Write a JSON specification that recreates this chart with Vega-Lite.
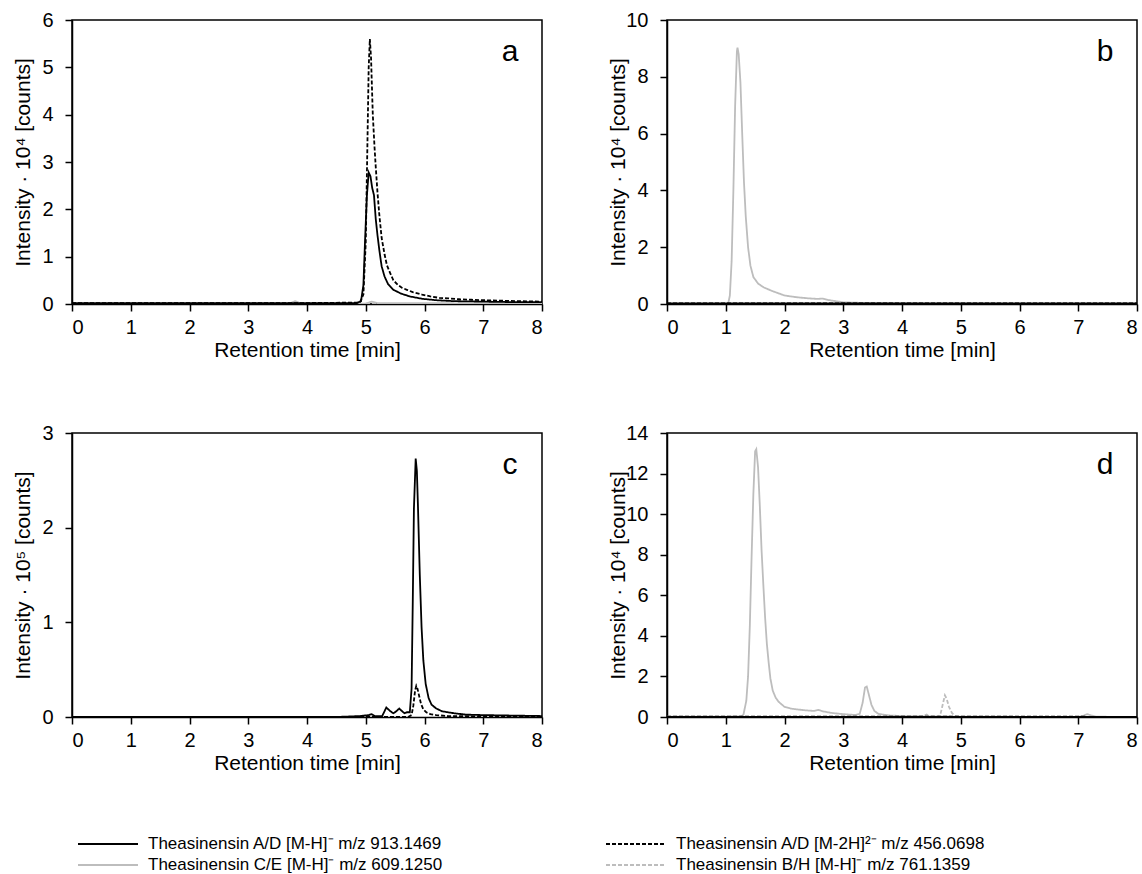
{
  "$schema": "https://vega.github.io/schema/vega-lite/v6.json",
  "padding": {"left": 11, "top": 9, "right": 0, "bottom": 0},
  "config": {
    "font": "Liberation Sans",
    "view": {"stroke": "#000000", "strokeWidth": 1.5},
    "axis": {
      "labelFont": "Liberation Sans", "labelFontSize": 20, "labelColor": "#000000",
      "titleFont": "Liberation Sans", "titleFontSize": 21, "titleFontWeight": "normal", "titleColor": "#000000",
      "domainColor": "#000000", "domainWidth": 1.5, "tickColor": "#000000", "tickWidth": 1.5, "tickSize": 7, "grid": false, "format": "d"
    },
    "axisX": {"labelPadding": 6, "titlePadding": 2},
    "axisY": {"labelPadding": 12, "titleX": -49, "titleBaseline": "middle"},
    "text": {"font": "Liberation Sans", "fontSize": 30, "color": "#000000", "baseline": "alphabetic", "align": "center"}
  },
  "data": {"values": [
    {"p":"a","s":"s3","t":0,"v":0.0},{"p":"a","s":"s3","t":3.7,"v":0.01},{"p":"a","s":"s3","t":3.8,"v":0.06},{"p":"a","s":"s3","t":3.9,"v":0.01},{"p":"a","s":"s3","t":5.0,"v":0.01},{"p":"a","s":"s3","t":5.1,"v":0.05},{"p":"a","s":"s3","t":5.2,"v":0.02},{"p":"a","s":"s3","t":8,"v":0.01},
    {"p":"a","s":"s4","t":0,"v":0.0},{"p":"a","s":"s4","t":8,"v":0.0},
    {"p":"a","s":"s1","t":0,"v":0.02},{"p":"a","s":"s1","t":2,"v":0.02},{"p":"a","s":"s1","t":4,"v":0.02},{"p":"a","s":"s1","t":4.85,"v":0.02},{"p":"a","s":"s1","t":4.92,"v":0.06},{"p":"a","s":"s1","t":4.96,"v":0.4},{"p":"a","s":"s1","t":4.99,"v":1.4},{"p":"a","s":"s1","t":5.02,"v":2.3},{"p":"a","s":"s1","t":5.05,"v":2.78},{"p":"a","s":"s1","t":5.08,"v":2.7},{"p":"a","s":"s1","t":5.11,"v":2.45},{"p":"a","s":"s1","t":5.14,"v":2.3},{"p":"a","s":"s1","t":5.17,"v":1.8},{"p":"a","s":"s1","t":5.2,"v":1.45},{"p":"a","s":"s1","t":5.23,"v":1.15},{"p":"a","s":"s1","t":5.27,"v":0.8},{"p":"a","s":"s1","t":5.32,"v":0.58},{"p":"a","s":"s1","t":5.38,"v":0.42},{"p":"a","s":"s1","t":5.47,"v":0.3},{"p":"a","s":"s1","t":5.6,"v":0.22},{"p":"a","s":"s1","t":5.75,"v":0.16},{"p":"a","s":"s1","t":5.96,"v":0.11},{"p":"a","s":"s1","t":6.2,"v":0.08},{"p":"a","s":"s1","t":6.5,"v":0.06},{"p":"a","s":"s1","t":7.0,"v":0.05},{"p":"a","s":"s1","t":7.5,"v":0.04},{"p":"a","s":"s1","t":8,"v":0.04},
    {"p":"a","s":"s2","t":0,"v":0.02},{"p":"a","s":"s2","t":2,"v":0.02},{"p":"a","s":"s2","t":4,"v":0.02},{"p":"a","s":"s2","t":4.9,"v":0.03},{"p":"a","s":"s2","t":4.96,"v":0.2},{"p":"a","s":"s2","t":5.0,"v":1.3},{"p":"a","s":"s2","t":5.03,"v":3.5},{"p":"a","s":"s2","t":5.05,"v":5.0},{"p":"a","s":"s2","t":5.07,"v":5.6},{"p":"a","s":"s2","t":5.09,"v":5.2},{"p":"a","s":"s2","t":5.12,"v":4.0},{"p":"a","s":"s2","t":5.15,"v":3.3},{"p":"a","s":"s2","t":5.17,"v":2.9},{"p":"a","s":"s2","t":5.2,"v":2.35},{"p":"a","s":"s2","t":5.23,"v":1.9},{"p":"a","s":"s2","t":5.27,"v":1.4},{"p":"a","s":"s2","t":5.32,"v":1.05},{"p":"a","s":"s2","t":5.36,"v":0.82},{"p":"a","s":"s2","t":5.41,"v":0.67},{"p":"a","s":"s2","t":5.47,"v":0.5},{"p":"a","s":"s2","t":5.55,"v":0.4},{"p":"a","s":"s2","t":5.62,"v":0.34},{"p":"a","s":"s2","t":5.7,"v":0.3},{"p":"a","s":"s2","t":5.8,"v":0.25},{"p":"a","s":"s2","t":5.9,"v":0.22},{"p":"a","s":"s2","t":5.96,"v":0.2},{"p":"a","s":"s2","t":6.1,"v":0.16},{"p":"a","s":"s2","t":6.25,"v":0.13},{"p":"a","s":"s2","t":6.4,"v":0.12},{"p":"a","s":"s2","t":6.6,"v":0.1},{"p":"a","s":"s2","t":6.8,"v":0.09},{"p":"a","s":"s2","t":7.0,"v":0.08},{"p":"a","s":"s2","t":7.3,"v":0.07},{"p":"a","s":"s2","t":7.6,"v":0.06},{"p":"a","s":"s2","t":8,"v":0.05},

    {"p":"b","s":"s3","t":0,"v":0.0},{"p":"b","s":"s3","t":1.04,"v":0.0},{"p":"b","s":"s3","t":1.07,"v":0.3},{"p":"b","s":"s3","t":1.1,"v":1.5},{"p":"b","s":"s3","t":1.13,"v":4.0},{"p":"b","s":"s3","t":1.16,"v":7.0},{"p":"b","s":"s3","t":1.19,"v":8.9},{"p":"b","s":"s3","t":1.2,"v":9.03},{"p":"b","s":"s3","t":1.22,"v":8.8},{"p":"b","s":"s3","t":1.25,"v":7.8},{"p":"b","s":"s3","t":1.28,"v":6.0},{"p":"b","s":"s3","t":1.31,"v":4.3},{"p":"b","s":"s3","t":1.34,"v":3.1},{"p":"b","s":"s3","t":1.38,"v":2.0},{"p":"b","s":"s3","t":1.42,"v":1.35},{"p":"b","s":"s3","t":1.47,"v":0.95},{"p":"b","s":"s3","t":1.55,"v":0.72},{"p":"b","s":"s3","t":1.65,"v":0.58},{"p":"b","s":"s3","t":1.8,"v":0.45},{"p":"b","s":"s3","t":2.0,"v":0.3},{"p":"b","s":"s3","t":2.2,"v":0.24},{"p":"b","s":"s3","t":2.4,"v":0.2},{"p":"b","s":"s3","t":2.55,"v":0.18},{"p":"b","s":"s3","t":2.65,"v":0.19},{"p":"b","s":"s3","t":2.75,"v":0.14},{"p":"b","s":"s3","t":2.9,"v":0.09},{"p":"b","s":"s3","t":3.0,"v":0.06},{"p":"b","s":"s3","t":3.3,"v":0.04},{"p":"b","s":"s3","t":3.7,"v":0.03},{"p":"b","s":"s3","t":4.0,"v":0.02},{"p":"b","s":"s3","t":5.0,"v":0.01},{"p":"b","s":"s3","t":8,"v":0.0},
    {"p":"b","s":"s4","t":0,"v":0.0},{"p":"b","s":"s4","t":8,"v":0.0},
    {"p":"b","s":"s1","t":0,"v":0.02},{"p":"b","s":"s1","t":8,"v":0.02},
    {"p":"b","s":"s2","t":0,"v":0.02},{"p":"b","s":"s2","t":8,"v":0.02},

    {"p":"c","s":"s3","t":0,"v":0.0},{"p":"c","s":"s3","t":8,"v":0.0},
    {"p":"c","s":"s4","t":0,"v":0.0},{"p":"c","s":"s4","t":8,"v":0.0},
    {"p":"c","s":"s1","t":0,"v":0.0},{"p":"c","s":"s1","t":4.5,"v":0.0},{"p":"c","s":"s1","t":4.9,"v":0.01},{"p":"c","s":"s1","t":5.05,"v":0.02},{"p":"c","s":"s1","t":5.1,"v":0.03},{"p":"c","s":"s1","t":5.15,"v":0.01},{"p":"c","s":"s1","t":5.28,"v":0.01},{"p":"c","s":"s1","t":5.35,"v":0.1},{"p":"c","s":"s1","t":5.42,"v":0.06},{"p":"c","s":"s1","t":5.47,"v":0.04},{"p":"c","s":"s1","t":5.52,"v":0.06},{"p":"c","s":"s1","t":5.57,"v":0.09},{"p":"c","s":"s1","t":5.62,"v":0.06},{"p":"c","s":"s1","t":5.66,"v":0.04},{"p":"c","s":"s1","t":5.7,"v":0.05},{"p":"c","s":"s1","t":5.75,"v":0.05},{"p":"c","s":"s1","t":5.78,"v":0.3},{"p":"c","s":"s1","t":5.8,"v":1.2},{"p":"c","s":"s1","t":5.82,"v":2.2},{"p":"c","s":"s1","t":5.85,"v":2.73},{"p":"c","s":"s1","t":5.87,"v":2.6},{"p":"c","s":"s1","t":5.89,"v":2.2},{"p":"c","s":"s1","t":5.92,"v":1.5},{"p":"c","s":"s1","t":5.95,"v":0.95},{"p":"c","s":"s1","t":5.98,"v":0.6},{"p":"c","s":"s1","t":6.02,"v":0.35},{"p":"c","s":"s1","t":6.07,"v":0.2},{"p":"c","s":"s1","t":6.12,"v":0.13},{"p":"c","s":"s1","t":6.2,"v":0.09},{"p":"c","s":"s1","t":6.3,"v":0.06},{"p":"c","s":"s1","t":6.4,"v":0.05},{"p":"c","s":"s1","t":6.5,"v":0.04},{"p":"c","s":"s1","t":6.7,"v":0.025},{"p":"c","s":"s1","t":7.0,"v":0.02},{"p":"c","s":"s1","t":7.5,"v":0.015},{"p":"c","s":"s1","t":8,"v":0.01},
    {"p":"c","s":"s2","t":0,"v":0.0},{"p":"c","s":"s2","t":5.72,"v":0.0},{"p":"c","s":"s2","t":5.78,"v":0.02},{"p":"c","s":"s2","t":5.81,"v":0.12},{"p":"c","s":"s2","t":5.84,"v":0.28},{"p":"c","s":"s2","t":5.86,"v":0.33},{"p":"c","s":"s2","t":5.88,"v":0.3},{"p":"c","s":"s2","t":5.91,"v":0.22},{"p":"c","s":"s2","t":5.94,"v":0.14},{"p":"c","s":"s2","t":5.98,"v":0.08},{"p":"c","s":"s2","t":6.03,"v":0.05},{"p":"c","s":"s2","t":6.1,"v":0.03},{"p":"c","s":"s2","t":6.2,"v":0.02},{"p":"c","s":"s2","t":6.4,"v":0.01},{"p":"c","s":"s2","t":8,"v":0.0},

    {"p":"d","s":"s3","t":0,"v":0.02},{"p":"d","s":"s3","t":1.0,"v":0.02},{"p":"d","s":"s3","t":1.25,"v":0.03},{"p":"d","s":"s3","t":1.3,"v":0.1},{"p":"d","s":"s3","t":1.35,"v":0.8},{"p":"d","s":"s3","t":1.38,"v":2.0},{"p":"d","s":"s3","t":1.41,"v":4.5},{"p":"d","s":"s3","t":1.44,"v":7.9},{"p":"d","s":"s3","t":1.47,"v":11.0},{"p":"d","s":"s3","t":1.5,"v":13.1},{"p":"d","s":"s3","t":1.52,"v":13.2},{"p":"d","s":"s3","t":1.55,"v":12.3},{"p":"d","s":"s3","t":1.58,"v":10.4},{"p":"d","s":"s3","t":1.61,"v":8.2},{"p":"d","s":"s3","t":1.64,"v":6.5},{"p":"d","s":"s3","t":1.67,"v":4.9},{"p":"d","s":"s3","t":1.7,"v":3.6},{"p":"d","s":"s3","t":1.73,"v":2.7},{"p":"d","s":"s3","t":1.76,"v":1.9},{"p":"d","s":"s3","t":1.8,"v":1.3},{"p":"d","s":"s3","t":1.85,"v":0.95},{"p":"d","s":"s3","t":1.9,"v":0.75},{"p":"d","s":"s3","t":2.0,"v":0.5},{"p":"d","s":"s3","t":2.1,"v":0.42},{"p":"d","s":"s3","t":2.2,"v":0.38},{"p":"d","s":"s3","t":2.35,"v":0.33},{"p":"d","s":"s3","t":2.5,"v":0.3},{"p":"d","s":"s3","t":2.58,"v":0.35},{"p":"d","s":"s3","t":2.65,"v":0.28},{"p":"d","s":"s3","t":2.8,"v":0.2},{"p":"d","s":"s3","t":3.0,"v":0.14},{"p":"d","s":"s3","t":3.2,"v":0.1},{"p":"d","s":"s3","t":3.28,"v":0.15},{"p":"d","s":"s3","t":3.33,"v":0.7},{"p":"d","s":"s3","t":3.37,"v":1.45},{"p":"d","s":"s3","t":3.4,"v":1.5},{"p":"d","s":"s3","t":3.44,"v":1.05},{"p":"d","s":"s3","t":3.48,"v":0.6},{"p":"d","s":"s3","t":3.53,"v":0.3},{"p":"d","s":"s3","t":3.6,"v":0.15},{"p":"d","s":"s3","t":3.8,"v":0.07},{"p":"d","s":"s3","t":4.0,"v":0.05},{"p":"d","s":"s3","t":4.5,"v":0.03},{"p":"d","s":"s3","t":5.0,"v":0.02},{"p":"d","s":"s3","t":6.0,"v":0.01},{"p":"d","s":"s3","t":7.0,"v":0.01},{"p":"d","s":"s3","t":7.08,"v":0.05},{"p":"d","s":"s3","t":7.15,"v":0.14},{"p":"d","s":"s3","t":7.22,"v":0.08},{"p":"d","s":"s3","t":7.3,"v":0.02},{"p":"d","s":"s3","t":7.5,"v":0.01},{"p":"d","s":"s3","t":8,"v":0.0},
    {"p":"d","s":"s4","t":0,"v":0.0},{"p":"d","s":"s4","t":4.3,"v":0.0},{"p":"d","s":"s4","t":4.38,"v":0.08},{"p":"d","s":"s4","t":4.42,"v":0.12},{"p":"d","s":"s4","t":4.46,"v":0.03},{"p":"d","s":"s4","t":4.62,"v":0.02},{"p":"d","s":"s4","t":4.66,"v":0.2},{"p":"d","s":"s4","t":4.7,"v":0.7},{"p":"d","s":"s4","t":4.73,"v":1.07},{"p":"d","s":"s4","t":4.76,"v":0.9},{"p":"d","s":"s4","t":4.8,"v":0.5},{"p":"d","s":"s4","t":4.85,"v":0.2},{"p":"d","s":"s4","t":4.9,"v":0.06},{"p":"d","s":"s4","t":5.0,"v":0.01},{"p":"d","s":"s4","t":8,"v":0.0},
    {"p":"d","s":"s1","t":0,"v":0.0},{"p":"d","s":"s1","t":8,"v":0.0},
    {"p":"d","s":"s2","t":0,"v":0.02},{"p":"d","s":"s2","t":8,"v":0.01}
  ]},
  "vconcat": [
    {"hconcat": [
      {"width": 470, "height": 284, "layer": [
        {"transform": [{"filter": "datum.p == 'a'"}], "mark": {"type": "line", "strokeWidth": 1.8, "clip": true}, "encoding": {
          "x": {"field": "t", "type": "quantitative", "scale": {"domain": [0, 8], "nice": false}, "axis": {"values": [0,1,2,3,4,5,6,7,8], "title": "Retention time [min]"}},
          "y": {"field": "v", "type": "quantitative", "scale": {"domain": [0, 6], "nice": false}, "axis": {"values": [0,1,2,3,4,5,6], "title": "Intensity · 10⁴ [counts]"}},
          "color": {"field": "s", "type": "nominal", "scale": {"domain": ["s1","s2","s3","s4"], "range": ["#000000","#000000","#bdbdbd","#bdbdbd"]}, "legend": {"title": null, "orient": "none", "direction": "horizontal", "legendX": 25, "legendY": 813, "columns": 2, "columnPadding": 159, "rowPadding": 2, "symbolType": "M-3,0H3", "symbolSize": 400, "symbolStrokeWidth": 2, "symbolFillColor": "transparent", "labelFontSize": 17, "labelFont": "Liberation Sans", "labelColor": "#000000", "labelLimit": 700, "labelOffset": 29, "labelExpr": "datum.label == 's1' ? 'Theasinensin A/D [M-H]⁻ m/z 913.1469' : datum.label == 's2' ? 'Theasinensin A/D [M-2H]²⁻ m/z 456.0698' : datum.label == 's3' ? 'Theasinensin C/E [M-H]⁻ m/z 609.1250' : 'Theasinensin B/H [M-H]⁻ m/z 761.1359'"}},
          "strokeDash": {"field": "s", "type": "nominal", "scale": {"domain": ["s1","s2","s3","s4"], "range": [[1,0],[4,2],[1,0],[4,2]]}, "legend": {"title": null, "orient": "none", "direction": "horizontal", "legendX": 25, "legendY": 813, "columns": 2, "columnPadding": 159, "rowPadding": 2, "symbolType": "M-3,0H3", "symbolSize": 400, "symbolStrokeWidth": 2, "symbolFillColor": "transparent", "labelFontSize": 17, "labelFont": "Liberation Sans", "labelColor": "#000000", "labelLimit": 700, "labelOffset": 29, "labelExpr": "datum.label == 's1' ? 'Theasinensin A/D [M-H]⁻ m/z 913.1469' : datum.label == 's2' ? 'Theasinensin A/D [M-2H]²⁻ m/z 456.0698' : datum.label == 's3' ? 'Theasinensin C/E [M-H]⁻ m/z 609.1250' : 'Theasinensin B/H [M-H]⁻ m/z 761.1359'"}}
        }},
        {"data": {"values": [{"lab": "a"}]}, "mark": {"type": "text"}, "encoding": {"x": {"datum": 7.455, "type": "quantitative"}, "y": {"datum": 5.13, "type": "quantitative"}, "text": {"field": "lab"}}}
      ]},
      {"width": 470, "height": 284, "layer": [
        {"transform": [{"filter": "datum.p == 'b'"}], "mark": {"type": "line", "strokeWidth": 1.8, "clip": true}, "encoding": {
          "x": {"field": "t", "type": "quantitative", "scale": {"domain": [0, 8], "nice": false}, "axis": {"values": [0,1,2,3,4,5,6,7,8], "title": "Retention time [min]"}},
          "y": {"field": "v", "type": "quantitative", "scale": {"domain": [0, 10], "nice": false}, "axis": {"values": [0,2,4,6,8,10], "title": "Intensity · 10⁴ [counts]"}},
          "color": {"field": "s", "type": "nominal"},
          "strokeDash": {"field": "s", "type": "nominal"}
        }},
        {"data": {"values": [{"lab": "b"}]}, "mark": {"type": "text"}, "encoding": {"x": {"datum": 7.455, "type": "quantitative"}, "y": {"datum": 8.55, "type": "quantitative"}, "text": {"field": "lab"}}}
      ]}
    ], "spacing": 62},
    {"hconcat": [
      {"width": 470, "height": 284, "layer": [
        {"transform": [{"filter": "datum.p == 'c'"}], "mark": {"type": "line", "strokeWidth": 1.8, "clip": true}, "encoding": {
          "x": {"field": "t", "type": "quantitative", "scale": {"domain": [0, 8], "nice": false}, "axis": {"values": [0,1,2,3,4,5,6,7,8], "title": "Retention time [min]"}},
          "y": {"field": "v", "type": "quantitative", "scale": {"domain": [0, 3], "nice": false}, "axis": {"values": [0,1,2,3], "title": "Intensity · 10⁵ [counts]"}},
          "color": {"field": "s", "type": "nominal"},
          "strokeDash": {"field": "s", "type": "nominal"}
        }},
        {"data": {"values": [{"lab": "c"}]}, "mark": {"type": "text"}, "encoding": {"x": {"datum": 7.455, "type": "quantitative"}, "y": {"datum": 2.565, "type": "quantitative"}, "text": {"field": "lab"}}}
      ]},
      {"width": 470, "height": 284, "layer": [
        {"transform": [{"filter": "datum.p == 'd'"}], "mark": {"type": "line", "strokeWidth": 1.8, "clip": true}, "encoding": {
          "x": {"field": "t", "type": "quantitative", "scale": {"domain": [0, 8], "nice": false}, "axis": {"values": [0,1,2,3,4,5,6,7,8], "title": "Retention time [min]"}},
          "y": {"field": "v", "type": "quantitative", "scale": {"domain": [0, 14], "nice": false}, "axis": {"values": [0,2,4,6,8,10,12,14], "title": "Intensity · 10⁴ [counts]"}},
          "color": {"field": "s", "type": "nominal"},
          "strokeDash": {"field": "s", "type": "nominal"}
        }},
        {"data": {"values": [{"lab": "d"}]}, "mark": {"type": "text"}, "encoding": {"x": {"datum": 7.455, "type": "quantitative"}, "y": {"datum": 11.97, "type": "quantitative"}, "text": {"field": "lab"}}}
      ]}
    ], "spacing": 62}
  ],
  "spacing": 61
}
